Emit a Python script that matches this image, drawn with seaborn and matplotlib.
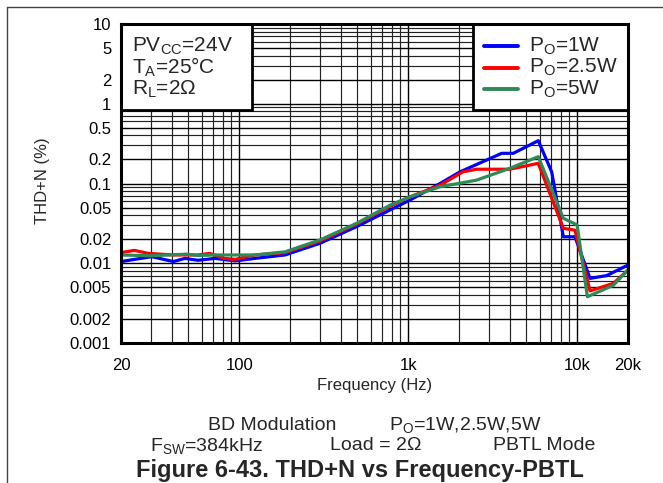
import numpy as np
import pandas as pd
import matplotlib
matplotlib.use("Agg")
import matplotlib.pyplot as plt
import seaborn as sns
from matplotlib.ticker import FixedLocator, NullFormatter, LogLocator
from matplotlib.patches import Rectangle
from matplotlib.lines import Line2D

# ---- data ----
freq_1w = [20, 30.4, 40.8, 47.8, 57, 72, 95, 124, 187, 301, 496, 782, 1026, 1544, 2028, 3578, 4190, 5890, 7070, 8290, 9710, 11920, 14950, 20000]
thd_1w = [0.0105, 0.0121, 0.0105, 0.0115, 0.0109, 0.0115, 0.0107, 0.0115, 0.0127, 0.0178, 0.0288, 0.0466, 0.062, 0.1, 0.14, 0.239, 0.239, 0.344, 0.14, 0.0215, 0.0215, 0.00646, 0.0070, 0.0095]

freq_2w5 = [20, 24, 29, 40.8, 57, 67, 82, 95, 124, 187, 301, 496, 782, 1026, 1544, 2110, 2535, 4000, 5890, 8290, 9710, 11920, 16400, 20000]
thd_2w5 = [0.0136, 0.0145, 0.0133, 0.0127, 0.0127, 0.0133, 0.0115, 0.0112, 0.0127, 0.0136, 0.019, 0.031, 0.052, 0.068, 0.095, 0.14, 0.151, 0.151, 0.179, 0.0274, 0.026, 0.0045, 0.0056, 0.0082]

freq_5w = [20, 30, 49, 57, 72, 95, 124, 187, 301, 496, 782, 1026, 1544, 2535, 4000, 5890, 8290, 10000, 11500, 16400, 20000]
thd_5w = [0.0127, 0.0124, 0.013, 0.0125, 0.0127, 0.0127, 0.0127, 0.0139, 0.0196, 0.0317, 0.0535, 0.068, 0.091, 0.11, 0.155, 0.217, 0.0366, 0.0302, 0.0038, 0.0053, 0.0083]

series_names = ["P$_\\mathregular{O}$=1W", "P$_\\mathregular{O}$=2.5W", "P$_\\mathregular{O}$=5W"]
series_colors = ["#0000FF", "#FF0000", "#2E8B57"]

y_ticks = [10, 5, 2, 1, 0.5, 0.2, 0.1, 0.05, 0.02, 0.01, 0.005, 0.002, 0.001]
y_labels = ["10", "5", "2", "1", "0.5", "0.2", "0.1", "0.05", "0.02", "0.01", "0.005", "0.002", "0.001"]
x_ticks = [20, 100, 1000, 10000, 20000]
x_labels = ["20", "100", "1k", "10k", "20k"]

df = pd.concat([
    pd.DataFrame({"f": freq_1w, "thd": thd_1w, "s": series_names[0]}),
    pd.DataFrame({"f": freq_2w5, "thd": thd_2w5, "s": series_names[1]}),
    pd.DataFrame({"f": freq_5w, "thd": thd_5w, "s": series_names[2]}),
], ignore_index=True)

sns.set_style("white")
plt.rcParams["font.family"] = ["Liberation Sans", "DejaVu Sans"]
plt.rcParams["mathtext.fontset"] = "custom"
plt.rcParams["mathtext.rm"] = "Liberation Sans"
plt.rcParams["mathtext.it"] = "Liberation Sans"

fig = plt.figure(figsize=(6.63, 4.83), dpi=100)
ax = fig.add_axes([121 / 663, 1 - 343 / 483, 507 / 663, 319 / 483])

sns.lineplot(data=df, x="f", y="thd", hue="s", palette=series_colors,
             estimator=None, sort=False, linewidth=2.3, ax=ax, zorder=3,
             legend=False)

ax.set_xscale("log")
ax.set_yscale("log")
ax.set_xlim(20, 20000)
ax.set_ylim(0.001, 10)

ax.xaxis.set_major_locator(FixedLocator(x_ticks))
ax.set_xticklabels(x_labels)
ax.xaxis.set_minor_locator(LogLocator(base=10, subs=np.arange(2, 10)))
ax.xaxis.set_minor_formatter(NullFormatter())
ax.yaxis.set_major_locator(FixedLocator(y_ticks))
ax.set_yticklabels(y_labels)
ax.yaxis.set_minor_locator(LogLocator(base=10, subs=np.arange(2, 10)))
ax.yaxis.set_minor_formatter(NullFormatter())
ax.tick_params(which="both", length=0, labelsize=12, colors="black")
ax.tick_params(axis="y", pad=7)
ax.tick_params(axis="x", pad=11)

ax.grid(True, which="major", color="black", linewidth=1.0, zorder=1)
ax.grid(True, which="minor", color="#222222", linewidth=0.85, zorder=1)
for sp in ax.spines.values():
    sp.set_visible(True)
    sp.set_color("black")
    sp.set_linewidth(2.2)
    sp.set_zorder(10)

ax.set_xlabel("Frequency (Hz)", fontsize=12)
ax.set_ylabel("THD+N (%)", fontsize=12)
ax.xaxis.set_label_coords(0.5, -0.11)
ax.yaxis.set_label_coords(-0.14, 0.51)

# conditions box (top-left)
tb_w = (252 - 121) / 507
tb_h = (110 - 24) / 319
ax.add_patch(Rectangle((0, 1 - tb_h), tb_w, tb_h, transform=ax.transAxes,
                       facecolor="white", edgecolor="black", linewidth=2.0, zorder=5))
cond = ["PV$_\\mathregular{CC}$=24V", "T$_\\mathregular{A}$=25°C", "R$_\\mathregular{L}$=2Ω"]
for i, t in enumerate(cond):
    ax.text(11 / 507, 1 - (22 + i * 21.5) / 319, t, transform=ax.transAxes,
            fontsize=15, va="center", ha="left", zorder=6)

# legend box (top-right)
lg_x0 = (473 - 121) / 507
lg_h = (110 - 24) / 319
ax.add_patch(Rectangle((lg_x0, 1 - lg_h), 1 - lg_x0, lg_h, transform=ax.transAxes,
                       facecolor="white", edgecolor="black", linewidth=2.0, zorder=5))
for i, (n, c) in enumerate(zip(series_names, series_colors)):
    yy = 1 - (22 + i * 21.5) / 319
    ax.add_line(Line2D([(484 - 121) / 507, (518 - 121) / 507], [yy, yy],
                       transform=ax.transAxes, color=c, linewidth=2.8, zorder=6))
    ax.text((529 - 121) / 507, yy, n, transform=ax.transAxes,
            fontsize=15, va="center", ha="left", zorder=6)

# figure border fragments
fig.add_artist(Line2D([7 / 663, 7 / 663], [0, 1 - 7 / 483], transform=fig.transFigure,
                      color="#444444", linewidth=1.0))
fig.add_artist(Line2D([7 / 663, 1], [1 - 7 / 483, 1 - 7 / 483], transform=fig.transFigure,
                      color="#444444", linewidth=1.0))

# bottom annotations
def ft(x, y, s, **kw):
    fig.text(x / 663, 1 - y / 483, s, va="center", **kw)

ft(272, 425, "BD Modulation", ha="center", fontsize=14)
ft(465, 425, "P$_\\mathregular{O}$=1W,2.5W,5W", ha="center", fontsize=14)
ft(207, 446, "F$_\\mathregular{SW}$=384kHz", ha="center", fontsize=14)
ft(376, 446, "Load = 2Ω", ha="center", fontsize=14)
ft(544, 446, "PBTL Mode", ha="center", fontsize=14)
ft(360, 470, "Figure 6-43. THD+N vs Frequency-PBTL", ha="center", fontsize=17,
   fontweight="bold")

fig.savefig("out.png", dpi=100)
